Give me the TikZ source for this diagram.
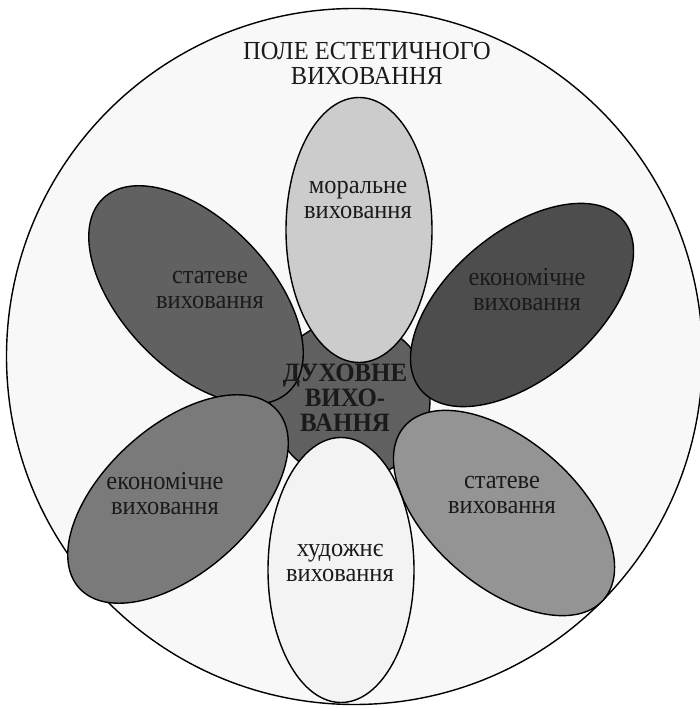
\documentclass[tikz,border=0pt]{standalone}
\usepackage{fontspec}
\setmainfont{Liberation Serif}[FakeStretch=0.94]
\definecolor{bigfill}{RGB}{248,248,248}
\definecolor{ptop}{RGB}{204,204,204}
\definecolor{pul}{RGB}{97,97,97}
\definecolor{pur}{RGB}{77,77,77}
\definecolor{plr}{RGB}{148,148,148}
\definecolor{pll}{RGB}{122,122,122}
\definecolor{pbot}{RGB}{243,243,243}
\definecolor{pcen}{RGB}{96,96,96}
\definecolor{txt}{RGB}{26,26,26}
\tikzset{
  petal/.style={draw=black, line width=1.4pt},
  lbl/.style={align=center, text=txt, inner sep=0pt,
    font={\fontsize{26}{25}\selectfont\lineskiplimit=-20pt}},
  clbl/.style={lbl, font={\fontsize{26.5}{25}\selectfont\lineskiplimit=-20pt\bfseries}}
}
\begin{document}
\begin{tikzpicture}[x=1pt,y=1pt]
\useasboundingbox (0,0) rectangle (700,709);
\clip (0,0) rectangle (700,709);
\fill[white] (0,0) rectangle (700,709);
% field circle
\coordinate (cbig) at (354.5,352.5);
\path[draw=black, line width=1.4pt, fill=bigfill] (cbig) circle [radius=348];
\node[lbl] (title) at (367,645) {ПОЛЕ ЕСТЕТИЧНОГО\\ВИХОВАННЯ};
% centre
\coordinate (ccen) at (350,309);
\path[petal, fill=pcen] (ccen) circle [radius=80];
% side petals
\coordinate (cul) at (196,414);
\coordinate (cur) at (522,404);
\coordinate (clr) at (504,196);
\coordinate (cll) at (178,210);
\coordinate (ctop) at (359,479);
\coordinate (cbot) at (341,139);
\path[petal, fill=pul, rotate around={-46:(cul)}] (cul) ellipse [x radius=134, y radius=74];
\path[petal, fill=pur, rotate around={40:(cur)}] (cur) ellipse [x radius=132, y radius=73];
\path[petal, fill=plr, rotate around={-41:(clr)}] (clr) ellipse [x radius=132, y radius=73];
\path[petal, fill=pll, rotate around={42:(cll)}] (cll) ellipse [x radius=133, y radius=73];
\path[petal, fill=ptop] (ctop) ellipse [x radius=73, y radius=132.5];
\path[petal, fill=pbot] (cbot) ellipse [x radius=73, y radius=132.5];
% labels
\node[lbl] (ltop) at (358,509) {моральне\\виховання};
\node[lbl] (lul) at (210,419) {статеве\\виховання};
\node[lbl] (lur) at (527,419) {економічне\\виховання};
\node[lbl] (llr) at (502,214) {статеве\\виховання};
\node[lbl] (lll) at (165,215) {економічне\\виховання};
\node[lbl] (lbot) at (340,146) {художнє\\виховання};
\node[clbl] (lcen) at (345,311) {ДУХОВНЕ\\ВИХО-\\ВАННЯ};
\end{tikzpicture}
\end{document}
